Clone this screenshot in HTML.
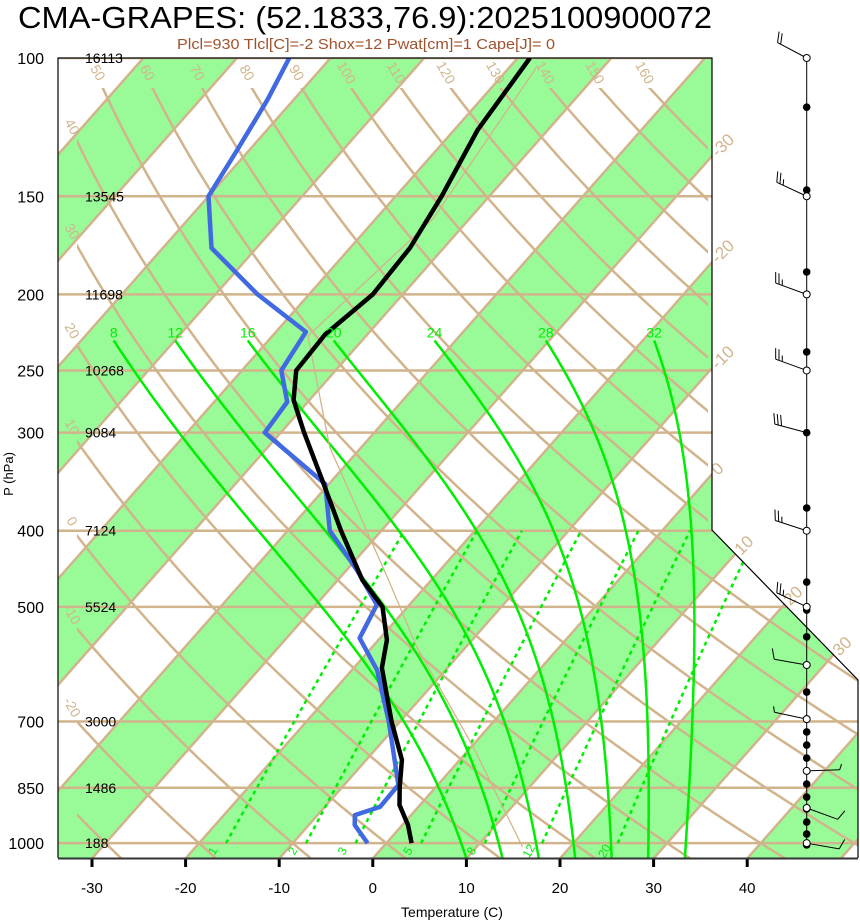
<!DOCTYPE html>
<html><head><meta charset="utf-8"><style>
html,body{margin:0;padding:0;background:#fff;}
svg{display:block;font-family:"Liberation Sans",sans-serif;}
</style></head><body>
<svg id="chart" width="860" height="921" viewBox="0 0 860 921" xmlns="http://www.w3.org/2000/svg">
<defs><clipPath id="plotclip"><polygon points="58,58 712,58 712,530 858,680 858,858 58,858"/></clipPath>
<clipPath id="adclip"><polygon points="77,88 708,88 708,530 858,680 858,858 77,858"/></clipPath></defs>
<text x="18" y="28" font-size="31" textLength="694" lengthAdjust="spacingAndGlyphs" fill="#000">CMA-GRAPES: (52.1833,76.9):2025100900072</text>
<text x="177" y="49" font-size="15" textLength="378" lengthAdjust="spacingAndGlyphs" fill="#a0522d">Plcl=930 Tlcl[C]=-2 Shox=12 Pwat[cm]=1 Cape[J]= 0</text>
<g id="bg" clip-path="url(#plotclip)"></g>
<g id="adi" clip-path="url(#adclip)"></g>
<g id="fg" clip-path="url(#plotclip)"></g>
<g id="over"></g>
<polyline points="58,858 58,58 712,58 712,530 858,680 858,858" fill="none" stroke="#000" stroke-width="1.2"/>
<line x1="58" y1="858.5" x2="858" y2="858.5" stroke="#333" stroke-width="2"/>
<text x="452" y="917" font-size="14" text-anchor="middle">Temperature (C)</text>
<text x="0" y="0" font-size="13" text-anchor="middle" transform="translate(13,474) rotate(-90)">P (hPa)</text>
</svg>
<script>
const NS='http://www.w3.org/2000/svg';
const isobars=[100,150,200,250,300,400,500,700,850,1000];
const heights=['16113','13545','11698','10268','9084','7124','5524','3000','1486','188'];
const xTicks=[-30,-20,-10,0,10,20,30,40];
const tempP=[100,123.5,150,174.6,200,225,250,272.6,300,344.7,400,462,500,551,598,700,783,850,894,948,1000];
const tempT=[-58.7,-57.5,-55.1,-53.6,-53.2,-54.5,-54.2,-51.7,-47.5,-41.1,-34.3,-27.4,-22.7,-19.1,-17.0,-10.9,-6.2,-3.8,-2.2,0.6,2.7];
const dewP=[100,113,131,150,174.6,200,223.3,250,274.2,300,348.8,400,448.8,497,548,602,700,843,899,921,948,1000];
const dewT=[-84.4,-82.8,-81.3,-80.0,-74.8,-65.5,-56.8,-55.8,-52.2,-51.7,-40.4,-35.5,-28.9,-23.5,-22.2,-17.3,-11.2,-4.2,-4.1,-6.0,-5.1,-2.0];
const parcelP=[103,160,226,313,462,563,754,1011];
const parcelT=[-57.1,-53.9,-56.2,-43.4,-24.6,-15.2,0.2,14.9];
const moistT=[8,12,16,20,24,28,32];
const mixW=[1,2,3,5,8,12,20];
const thetas=[-30,-20,-10,0,10,20,30,40,50,60,70,80,90,100,110,120,130,140,150,160];
const isoLabelT=[-30,-20,-10,0,10,20,30];
const barbP=[100,150,200,250,300,400,500,593,695,809,902,1000];
const barbAng=[-152,-155,-160,-160,-165,-162,-155,-170,-168,-2,20,10];
const barbSpd=[20,25,25,25,30,25,25,10,5,5,10,10];
const dotP=[115.5,147.3,187.3,236.8,300,374.2,465,504.8,546,593,642,695,721.7,749.9,779,809,840.7,873.4,904.6,939.8,973.5,1005];

function yP(p){return 58+341*Math.log(p/100);}
function xT(T,y){return 372.8+9.36*T+(858.5-y)/1.133;}
function mk(tag,attrs,parent){const e=document.createElementNS(NS,tag);for(const k in attrs)e.setAttribute(k,attrs[k]);parent.appendChild(e);return e;}
const bg=document.getElementById('bg'),fg=document.getElementById('fg'),adi=document.getElementById('adi'),over=document.getElementById('over');
const TAN='#d2b48c',GRN='#00ee00';

for(let T=-140;T<=60;T+=20){
  const pts=[[xT(T,858.5),858.5],[xT(T+10,858.5),858.5],[xT(T+10,58),58],[xT(T,58),58]];
  const e=mk('polygon',{points:pts.map(a=>a.join(',')).join(' '),fill:'#98fb98'},bg);
  
  
}
for(let T=-140;T<=60;T+=10){
  const e=mk('line',{x1:xT(T,858.5),y1:858.5,x2:xT(T,58),y2:58,stroke:TAN,'stroke-width':2.5},bg);
  
  
}
isobars.forEach((p,i)=>{
  const y=yP(p);
  const e=mk('line',{x1:58,y1:y,x2:860,y2:y,stroke:TAN,'stroke-width':2.5},bg);
  
  
  const t=mk('text',{x:44,y:y+6,'font-size':16,'text-anchor':'end',fill:'#000'},over);
  t.textContent=p;
  
  
  const h=mk('text',{x:85,y:y+5,'font-size':14,fill:'#000'},over);
  h.textContent=heights[i];
  
  
});
function dryT(th,p){return (th+273.15)*Math.pow(p/1000,0.2857)-273.15;}
thetas.forEach(th=>{
  const pts=[];
  for(let p=1060;p>=95;p-=5){const y=yP(p);pts.push([xT(dryT(th,p),y),y]);}
  const e=mk('polyline',{points:pts.map(a=>a[0].toFixed(1)+','+a[1].toFixed(1)).join(' '),fill:'none',stroke:TAN,'stroke-width':2.5},adi);
  
  
  let lx,ly;
  const pTop=100*Math.exp(30/341);
  const xTop=xT(dryT(th,pTop),88);
  if(xTop>=77){lx=xTop-9;ly=75;}
  else{let lo=100,hi=1060;for(let k=0;k<40;k++){const m=(lo+hi)/2;const xx=xT(dryT(th,m),yP(m));if(xx<77)lo=m;else hi=m;}
    lx=68;ly=yP(lo)-12;}
  if(ly>800)return;
  const t=mk('text',{x:lx,y:ly,'font-size':14,fill:TAN,'text-anchor':'middle',transform:`rotate(60 ${lx} ${ly})`},over);
  t.textContent=th;
  
  
});
function tFromW(w,p){const e=w*p/(622+w);const l=Math.log(e/6.112);return 243.5*l/(17.67-l);}
mixW.forEach(w=>{
  const pts=[];
  for(let p=1000;p>=400;p-=10){const y=yP(p);pts.push([xT(tFromW(w,p),y),y]);}
  const e=mk('polyline',{points:pts.map(a=>a[0].toFixed(1)+','+a[1].toFixed(1)).join(' '),fill:'none',stroke:GRN,'stroke-width':2.5,'stroke-dasharray':'4,4'},fg);
  
  
  const lx=xT(tFromW(w,1000),852)-2, ly=853;
  const t=mk('text',{x:lx,y:ly,'font-size':12,fill:GRN,'text-anchor':'middle',transform:`rotate(-60 ${lx} ${ly})`},over);
  t.textContent=w;
  
  
});
function es(T){return 6.112*Math.exp(17.67*(T-273.15)/(T-29.65));}
function dTdp(T,p){const e=es(T),rs=0.622*e/(p-e),Lv=2.501e6,Rd=287.04,cp=1005.7;return (Rd*T+Lv*rs)/(p*(cp+Lv*Lv*rs*0.622/(Rd*T*T)));}
moistT.forEach(T0=>{
  let T=T0+273.15,p=1000;const up=[[p,T]];
  while(p>229){T+=dTdp(T,p)*(-1);p-=1;up.push([p,T]);}
  T=T0+273.15;p=1000;const dn=[];
  while(p<1060){T+=dTdp(T,p);p+=1;dn.push([p,T]);}
  const all=dn.reverse().concat(up);
  const pts=all.map(a=>{const y=yP(a[0]);return [xT(a[1]-273.15,y),y];});
  const e=mk('polyline',{points:pts.map(a=>a[0].toFixed(1)+','+a[1].toFixed(1)).join(' '),fill:'none',stroke:GRN,'stroke-width':2.5},fg);
  
  
  const top=pts[pts.length-1];
  const t=mk('text',{x:top[0],y:top[1]-3,'font-size':14,fill:GRN,'text-anchor':'middle'},over);
  t.textContent=T0;
  
  
});
function boundaryY(T){
  let y=858.5-1.133*(712-372.8-9.36*T);
  if(y<=530)return [712,y];
  let lo=712,hi=858;for(let k=0;k<40;k++){const m=(lo+hi)/2;const yb=530+(m-712)*150/146;const yi=858.5-1.133*(m-372.8-9.36*T);if(yi<yb)hi=m;else lo=m;}
  return [lo,530+(lo-712)*150/146];
}
isoLabelT.forEach(T=>{
  const b=boundaryY(T);const lx=b[0]+6,ly=b[1]+2;
  const t=mk('text',{x:lx,y:ly,'font-size':17,fill:TAN,transform:`rotate(-45 ${lx} ${ly})`},over);
  t.textContent=T;
  
  
});
function profile(P,T,color,w,name){
  const pts=P.map((p,i)=>{const y=yP(p);return xT(T[i],y).toFixed(1)+','+y.toFixed(1);});
  const e=mk('polyline',{points:pts.join(' '),fill:'none',stroke:color,'stroke-width':w,'stroke-linejoin':'round'},fg);
  
  
}
profile(parcelP,parcelT,TAN,1.3,'parcel-path');
profile(dewP,dewT,'#4169e1',4.5,'dewpoint-profile');
profile(tempP,tempT,'#000',4.5,'temperature-profile');
xTicks.forEach(T=>{
  const x=xT(T,858.5);
  const l=mk('line',{x1:x,y1:858,x2:x,y2:867,stroke:'#000','stroke-width':3},over);
  
  
  const t=mk('text',{x:x,y:893,'font-size':15,'text-anchor':'middle'},over);
  t.textContent=T;
  
  
});
const WX=806.7;
const wl=mk('line',{x1:WX,y1:yP(100),x2:WX,y2:yP(1005),stroke:'#000','stroke-width':1},over);


dotP.forEach(p=>{
  const c=mk('circle',{cx:WX,cy:yP(p),r:3.8,fill:'#000'},over);
  
  
});
barbP.forEach((p,i)=>{
  const y=yP(p);const a=barbAng[i]*Math.PI/180;const ux=Math.cos(a),uy=Math.sin(a);
  const L=33;const ex=WX+ux*L,ey=y+uy*L;
  const g=mk('g',{},over);
  
  
  mk('line',{x1:WX,y1:y,x2:ex,y2:ey,stroke:'#000','stroke-width':1},g);
  const fa=a+(ux<0?70:-70)*Math.PI/180;const fx=Math.cos(fa),fy=Math.sin(fa);
  let s=barbSpd[i],k=0;
  while(s>=10){const bx=ex-ux*k*3.5,by=ey-uy*k*3.5;mk('line',{x1:bx,y1:by,x2:bx+fx*11,y2:by+fy*11,stroke:'#000','stroke-width':1},g);s-=10;k++;}
  if(s>=5){const bx=ex-ux*k*3.5,by=ey-uy*k*3.5;mk('line',{x1:bx,y1:by,x2:bx+fx*6,y2:by+fy*6,stroke:'#000','stroke-width':1},g);}
  if(p!==300){mk('circle',{cx:WX,cy:y,r:3.5,fill:'#fff',stroke:'#000','stroke-width':1},g);}
});
</script>
</body></html>
